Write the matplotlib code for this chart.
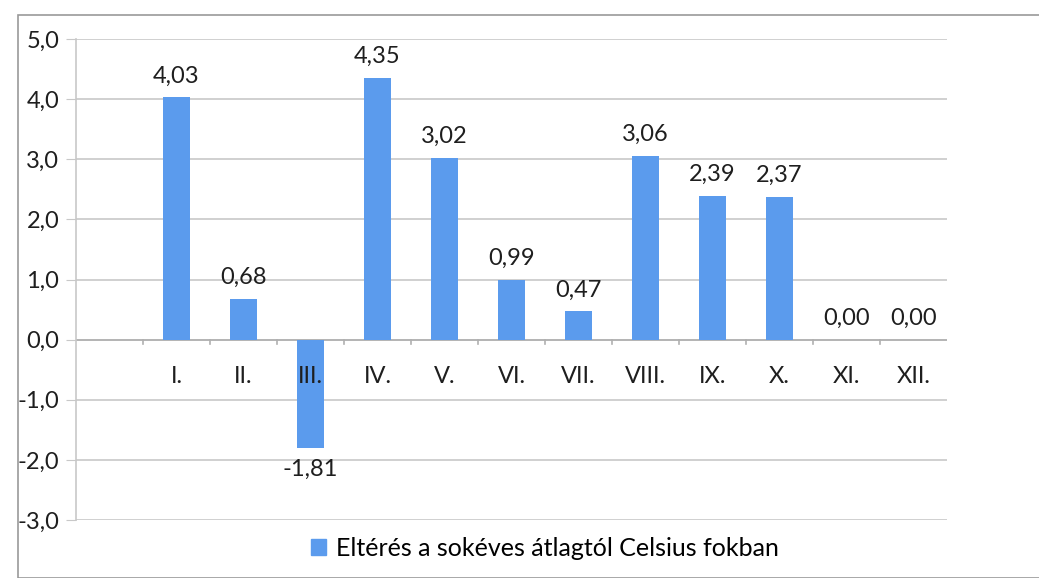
import matplotlib.pyplot as plt
from matplotlib.patches import Rectangle

plt.rcParams['font.family'] = ['Lato', 'DejaVu Sans']

# first slot is empty in the original chart
months = ['', 'I.', 'II.', 'III.', 'IV.', 'V.', 'VI.', 'VII.', 'VIII.', 'IX.', 'X.', 'XI.', 'XII.']
values = [None, 4.03, 0.68, -1.81, 4.35, 3.02, 0.99, 0.47, 3.06, 2.39, 2.37, 0.00, 0.00]
labels = ['', '4,03', '0,68', '-1,81', '4,35', '3,02', '0,99', '0,47', '3,06', '2,39', '2,37', '0,00', '0,00']
yticks = [-3, -2, -1, 0, 1, 2, 3, 4, 5]

bar_color = '#5b9bed'
grid_color = '#c8c8c8'
txt = '#1e1e1e'

fig = plt.figure(figsize=(10.39, 5.78), dpi=100)
ax = fig.add_axes([76 / 1039, 58 / 578, 871 / 1039, 481 / 578])

xs = list(range(len(months)))
for x, v, lab in zip(xs, values, labels):
    if v is None:
        continue
    ax.bar(x, v, width=0.4, color=bar_color, zorder=3)
    if v >= 0:
        ax.text(x, v + 0.18, lab, ha='center', va='bottom', fontsize=17, color=txt)
    else:
        ax.text(x, v - 0.18, lab, ha='center', va='top', fontsize=17, color=txt)

ax.set_xlim(-0.5, len(months) - 0.5)
ax.set_ylim(-3, 5)
ax.set_yticks(yticks)
ax.set_yticklabels([f'{t:.1f}'.replace('.', ',') for t in yticks], fontsize=17, color=txt)
ax.yaxis.grid(True, color=grid_color, linewidth=1.2, zorder=0)
ax.tick_params(axis='y', length=7, color=grid_color, pad=5)

for s in ['top', 'right', 'bottom']:
    ax.spines[s].set_visible(False)
ax.spines['left'].set_color(grid_color)
ax.spines['left'].set_linewidth(1.2)

# category axis at zero with tick marks between categories
ax.axhline(0, color='#b0b0b0', linewidth=1.2, zorder=2)
ax.set_xticks([])
for b in range(1, len(months)):
    ax.plot([b - 0.5, b - 0.5], [0, -0.08], color='#b0b0b0', linewidth=1.2, zorder=2)
for x, m in zip(xs, months):
    ax.text(x, -0.62, m, ha='center', va='center', fontsize=17, color=txt)

# legend
lh = Rectangle((0, 0), 1, 1, color=bar_color)
fig.legend([lh], ['Eltérés a sokéves átlagtól Celsius fokban'], loc='center',
           bbox_to_anchor=(545 / 1039, 1 - 548 / 578), frameon=False, fontsize=18,
           handlelength=0.6, handleheight=0.6, handletextpad=0.4)

# outer chart border
fig.add_artist(Rectangle((18 / 1039, 0.0), 1.2, 1 - 15 / 578, transform=fig.transFigure,
                         fill=False, edgecolor='#9a9a9a', linewidth=1.2))

fig.savefig('out.png', dpi=100)
